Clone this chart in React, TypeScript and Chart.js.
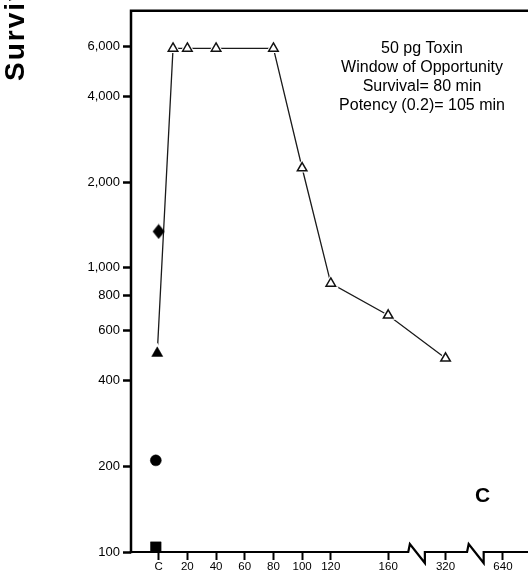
import { useEffect, useRef } from 'react';
import { Chart, registerables } from 'chart.js';

Chart.register(...registerables);

// Axis ticks (the x axis is broken after 160 min: 320 and 640 sit on a compressed segment)
const xTickPositions = [0, 20, 40, 60, 80, 100, 120, 160, 200, 240];
const xTickLabels = ['C', '20', '40', '60', '80', '100', '120', '160', '320', '640'];
const yTickValues = [100, 200, 400, 600, 800, 1000, 2000, 4000, 6000];

// Toxin series: time of treatment (min) vs survival
const toxinTimes = [10, 20, 40, 80, 100, 120, 160, 320];
const toxinSurvival = [5900, 5900, 5900, 5900, 2240, 880, 680, 480];

// Control group values plotted at "C" (triangle, diamond, circle, square)
const controlOffsets = [-1, 0, -2, -2];
const controlSurvival = [500, 1340, 210, 104];

// Where the broken x axis shows its zig-zag marks (axis units)
const axisBreaks = [174, 215];

const annotationLines = [
  '50 pg Toxin',
  'Window of Opportunity',
  'Survival= 80 min',
  'Potency (0.2)= 105 min',
];

const FONT = '"Liberation Sans", Arial, Helvetica, sans-serif';

// Position on the x axis: linear up to 160 min, then each doubling takes 40 units
const axisPos = (t: number) => (t <= 160 ? t : 160 + 40 * Math.log2(t / 160));

function makeDiamond(): HTMLCanvasElement {
  const c = document.createElement('canvas');
  c.width = 13;
  c.height = 16;
  const g = c.getContext('2d')!;
  g.fillStyle = '#000';
  g.beginPath();
  g.moveTo(6.5, 0.5);
  g.lineTo(12.5, 8);
  g.lineTo(6.5, 15.5);
  g.lineTo(0.5, 8);
  g.closePath();
  g.fill();
  return c;
}

const framePlugin = {
  id: 'frame',
  beforeDatasetsDraw(chart: any) {
    const { ctx, chartArea: a, scales } = chart;
    const xs = scales.x;
    ctx.save();
    ctx.strokeStyle = '#000';
    ctx.lineWidth = 2.5;
    ctx.lineJoin = 'miter';
    ctx.beginPath();
    ctx.moveTo(a.left, a.top - 1.25);
    ctx.lineTo(a.left, a.bottom + 1.25);
    ctx.moveTo(a.left - 1.25, a.top);
    ctx.lineTo(chart.width, a.top);
    ctx.stroke();

    ctx.lineWidth = 2.2;
    ctx.beginPath();
    ctx.moveTo(a.left - 1.25, a.bottom);
    for (const b of axisBreaks) {
      const x0 = xs.getPixelForValue(b);
      ctx.lineTo(x0, a.bottom);
      ctx.lineTo(x0 + 1.6, a.bottom - 8);
      ctx.lineTo(x0 + 16.6, a.bottom + 11);
      ctx.lineTo(x0 + 16.6, a.bottom);
    }
    ctx.lineTo(chart.width, a.bottom);
    ctx.stroke();
    ctx.restore();
  },
  afterDraw(chart: any) {
    const { ctx } = chart;
    ctx.save();
    ctx.fillStyle = '#000';

    // y axis title (runs upward)
    ctx.save();
    ctx.translate(24, 81);
    ctx.rotate(-Math.PI / 2);
    ctx.font = `bold 28px ${FONT}`;
    (ctx as any).letterSpacing = '2px';
    ctx.textAlign = 'left';
    ctx.textBaseline = 'alphabetic';
    ctx.fillText('Survival', 0, 0);
    ctx.restore();

    // annotation block
    ctx.font = `16px ${FONT}`;
    ctx.textAlign = 'center';
    ctx.textBaseline = 'alphabetic';
    annotationLines.forEach((line, i) => {
      ctx.fillText(line, 422, 53 + i * 19);
    });

    // panel letter
    ctx.font = `bold 21px ${FONT}`;
    ctx.fillText('C', 482.5, 502);
    ctx.restore();
  },
};

export default function App() {
  const canvasRef = useRef<HTMLCanvasElement | null>(null);

  useEffect(() => {
    const canvas = canvasRef.current;
    if (!canvas) return;

    const toxinPoints = toxinTimes.map((t, i) => ({ x: axisPos(t), y: toxinSurvival[i] }));
    const controlPoint = (i: number) => ({ x: controlOffsets[i], y: controlSurvival[i] });
    const linePoints = [controlPoint(0), ...toxinPoints];

    const chart = new Chart(canvas, {
      type: 'scatter',
      data: {
        datasets: [
          {
            label: 'Toxin',
            data: toxinPoints,
            showLine: false,
            pointStyle: 'triangle',
            pointRadius: 5.5,
            pointBackgroundColor: '#fff',
            pointBorderColor: '#111',
            pointBorderWidth: 1.5,
            clip: false,
            order: 0,
          },
          {
            label: 'Control (triangle)',
            data: [controlPoint(0)],
            pointStyle: 'triangle',
            pointRadius: 6.4,
            pointBackgroundColor: '#000',
            pointBorderColor: '#000',
            pointBorderWidth: 0.5,
            clip: false,
            order: 0,
          },
          {
            label: 'Control (diamond)',
            data: [controlPoint(1)],
            pointStyle: makeDiamond(),
            clip: false,
            order: 0,
          },
          {
            label: 'Control (circle)',
            data: [controlPoint(2)],
            pointStyle: 'circle',
            pointRadius: 5.5,
            pointBackgroundColor: '#000',
            pointBorderColor: '#000',
            pointBorderWidth: 0.5,
            clip: false,
            order: 0,
          },
          {
            label: 'Control (square)',
            data: [controlPoint(3)],
            pointStyle: 'rect',
            pointRadius: 7.5,
            pointBackgroundColor: '#000',
            pointBorderColor: '#000',
            pointBorderWidth: 0.5,
            clip: false,
            order: 0,
          },
          {
            label: 'halo',
            data: linePoints,
            showLine: false,
            pointStyle: 'triangle',
            pointRadius: linePoints.map((_, i) => (i === 0 ? 10.5 : 9)),
            pointBackgroundColor: '#fff',
            pointBorderColor: '#fff',
            pointBorderWidth: 0,
            clip: false,
            order: 1,
          },
          {
            label: 'line',
            data: linePoints,
            showLine: true,
            borderColor: '#1a1a1a',
            borderWidth: 1.3,
            pointRadius: 0,
            tension: 0,
            clip: false,
            order: 2,
          },
        ],
      },
      options: {
        responsive: false,
        animation: false,
        events: [],
        layout: { autoPadding: false, padding: { top: 8, left: 0, right: 0, bottom: 0 } },
        plugins: {
          legend: { display: false },
          tooltip: { enabled: false },
        },
        scales: {
          x: {
            type: 'linear',
            min: -19.3,
            max: 300,
            afterBuildTicks: (scale: any) => {
              scale.ticks = xTickPositions.map((v) => ({ value: v }));
            },
            afterFit: (scale: any) => {
              scale.height = 21;
            },
            border: { display: false },
            grid: {
              display: true,
              drawOnChartArea: false,
              drawTicks: true,
              tickLength: 8,
              tickWidth: 2,
              tickColor: '#000',
            },
            ticks: {
              autoSkip: false,
              maxRotation: 0,
              padding: 0,
              color: '#000',
              font: { family: FONT, size: 11.5 },
              callback: (_v: any, i: number) => xTickLabels[i],
            },
          },
          y: {
            type: 'logarithmic',
            min: 100,
            max: 8000,
            afterBuildTicks: (scale: any) => {
              scale.ticks = yTickValues.map((v) => ({ value: v }));
            },
            afterFit: (scale: any) => {
              scale.width = 131;
            },
            border: { display: false },
            grid: {
              display: true,
              drawOnChartArea: false,
              drawTicks: true,
              tickLength: 8,
              tickWidth: 2.5,
              tickColor: '#000',
            },
            ticks: {
              autoSkip: false,
              padding: 3,
              color: '#000',
              font: { family: FONT, size: 13 },
              callback: (v: any) => Number(v).toLocaleString('en-US'),
            },
          },
        },
      },
      plugins: [framePlugin],
    });

    return () => chart.destroy();
  }, []);

  return (
    <div
      style={{
        position: 'fixed',
        left: 0,
        top: 0,
        width: 528,
        height: 573,
        overflow: 'hidden',
        background: '#fff',
      }}
    >
      <canvas ref={canvasRef} width={589} height={573} style={{ display: 'block' }} />
    </div>
  );
}
